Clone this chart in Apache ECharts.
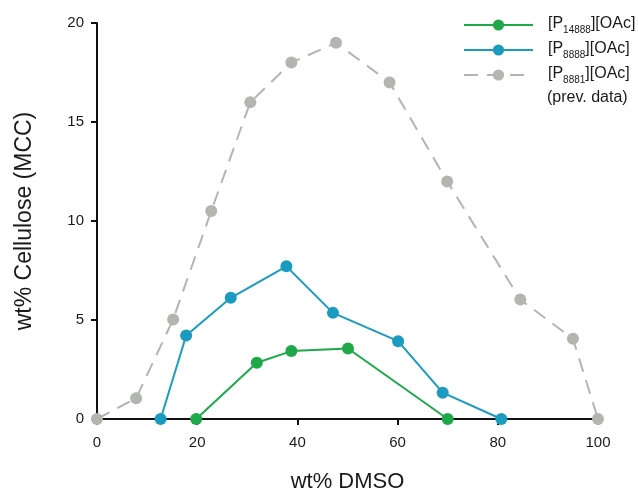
<!DOCTYPE html>
<html>
<head>
<meta charset="utf-8">
<script src="https://cdn.jsdelivr.net/npm/echarts@6/dist/echarts.min.js"></script>
<style>html,body{margin:0;padding:0;background:#fff}#c{width:638px;height:488px}</style>
</head>
<body>
<div id="c"></div>
<script>
// Data
var grayX  = [0, 7.8, 15.2, 22.8, 30.6, 38.8, 47.7, 58.4, 69.9, 84.5, 95.0, 100];
var grayY  = [0, 1.05, 5.03, 10.5, 16.0, 18.0, 19.0, 17.0, 12.0, 6.03, 4.05, 0];
var blueX  = [12.7, 17.8, 26.7, 37.8, 47.1, 60.1, 69.0, 80.7];
var blueY  = [0, 4.22, 6.12, 7.71, 5.36, 3.93, 1.33, 0];
var greenX = [19.8, 31.9, 38.8, 50.1, 70.0];
var greenY = [0, 2.84, 3.43, 3.56, 0];
var xTicks = [0, 20, 40, 60, 80, 100];
var yTicks = [0, 5, 10, 15, 20];
var seriesNames = ['[P14888][OAc]', '[P8888][OAc]', '[P8881][OAc]'];
var subParts = [['[P', '14888', '][OAc]'], ['[P', '8888', '][OAc]'], ['[P', '8881', '][OAc]']];
var noteText = '(prev. data)';
var xName = 'wt% DMSO';
var yName = 'wt% Cellulose (MCC)';

function pairs(xs, ys) { return xs.map(function (x, i) { return [x, ys[i]]; }); }

var FONT = 'Liberation Sans, Arial, Helvetica, sans-serif';
var C_GREEN = '#1ea84a', C_BLUE = '#1a9bbf', C_GRAY = '#b3b5b0';

var chart = echarts.init(document.getElementById('c'), null, {renderer: 'canvas'});
chart.setOption({
  animation: false,
  backgroundColor: '#ffffff',
  grid: {left: 97, right: 40, top: 23, bottom: 69, containLabel: false, outerBoundsMode: 'none'},
  xAxis: {
    type: 'value', min: xTicks[0], max: xTicks[xTicks.length - 1], interval: 20,
    name: xName, nameLocation: 'middle', nameGap: 52,
    nameTextStyle: {fontFamily: FONT, fontSize: 22, color: '#1a1a1a'},
    axisLine: {lineStyle: {color: '#111', width: 2}},
    axisTick: {show: true, inside: false, length: 6, lineStyle: {color: '#111', width: 2}},
    axisLabel: {fontFamily: FONT, fontSize: 15, color: '#1a1a1a', margin: 16},
    splitLine: {show: false}
  },
  yAxis: {
    type: 'value', min: yTicks[0], max: yTicks[yTicks.length - 1], interval: 5,
    name: yName, nameLocation: 'middle', nameGap: 61,
    nameTextStyle: {fontFamily: FONT, fontSize: 23, color: '#1a1a1a'},
    axisLine: {show: true, lineStyle: {color: '#111', width: 2}},
    axisTick: {show: true, inside: false, length: 6, lineStyle: {color: '#111', width: 2}},
    axisLabel: {fontFamily: FONT, fontSize: 15, color: '#1a1a1a', margin: 13},
    splitLine: {show: false}
  },
  legend: {
    left: 463, top: 16, padding: 0, orient: 'vertical',
    itemWidth: 69, itemHeight: 14, itemGap: 6,
    data: seriesNames,
    formatter: function (name) {
      var p = subParts[seriesNames.indexOf(name)];
      return '{g|}{n|' + p[0] + '}{s|' + p[1] + '}{n|' + p[2] + '}';
    },
    textStyle: {
      fontFamily: FONT, color: '#1a1a1a',
      rich: {
        g: {width: 10},
        n: {fontFamily: FONT, fontSize: 16, color: '#1a1a1a', lineHeight: 20, verticalAlign: 'bottom', padding: [0, 0, 3, 0]},
        s: {fontFamily: FONT, fontSize: 10, color: '#1a1a1a', lineHeight: 12, verticalAlign: 'bottom'}
      }
    }
  },
  graphic: [{
    type: 'text', left: 547, top: 90,
    style: {text: noteText, fontFamily: FONT, fontSize: 16, fill: '#1a1a1a'}
  }],
  series: [
    {
      name: seriesNames[2], type: 'line', data: pairs(grayX, grayY), clip: false,
      symbol: 'circle', symbolSize: 12,
      lineStyle: {color: C_GRAY, width: 2, type: [14, 9]},
      itemStyle: {color: C_GRAY}, z: 2
    },
    {
      name: seriesNames[1], type: 'line', data: pairs(blueX, blueY), clip: false,
      symbol: 'circle', symbolSize: 12,
      lineStyle: {color: C_BLUE, width: 2},
      itemStyle: {color: C_BLUE}, z: 3
    },
    {
      name: seriesNames[0], type: 'line', data: pairs(greenX, greenY), clip: false,
      symbol: 'circle', symbolSize: 12,
      lineStyle: {color: C_GREEN, width: 2},
      itemStyle: {color: C_GREEN}, z: 4
    }
  ]
});
</script>
</body>
</html>
